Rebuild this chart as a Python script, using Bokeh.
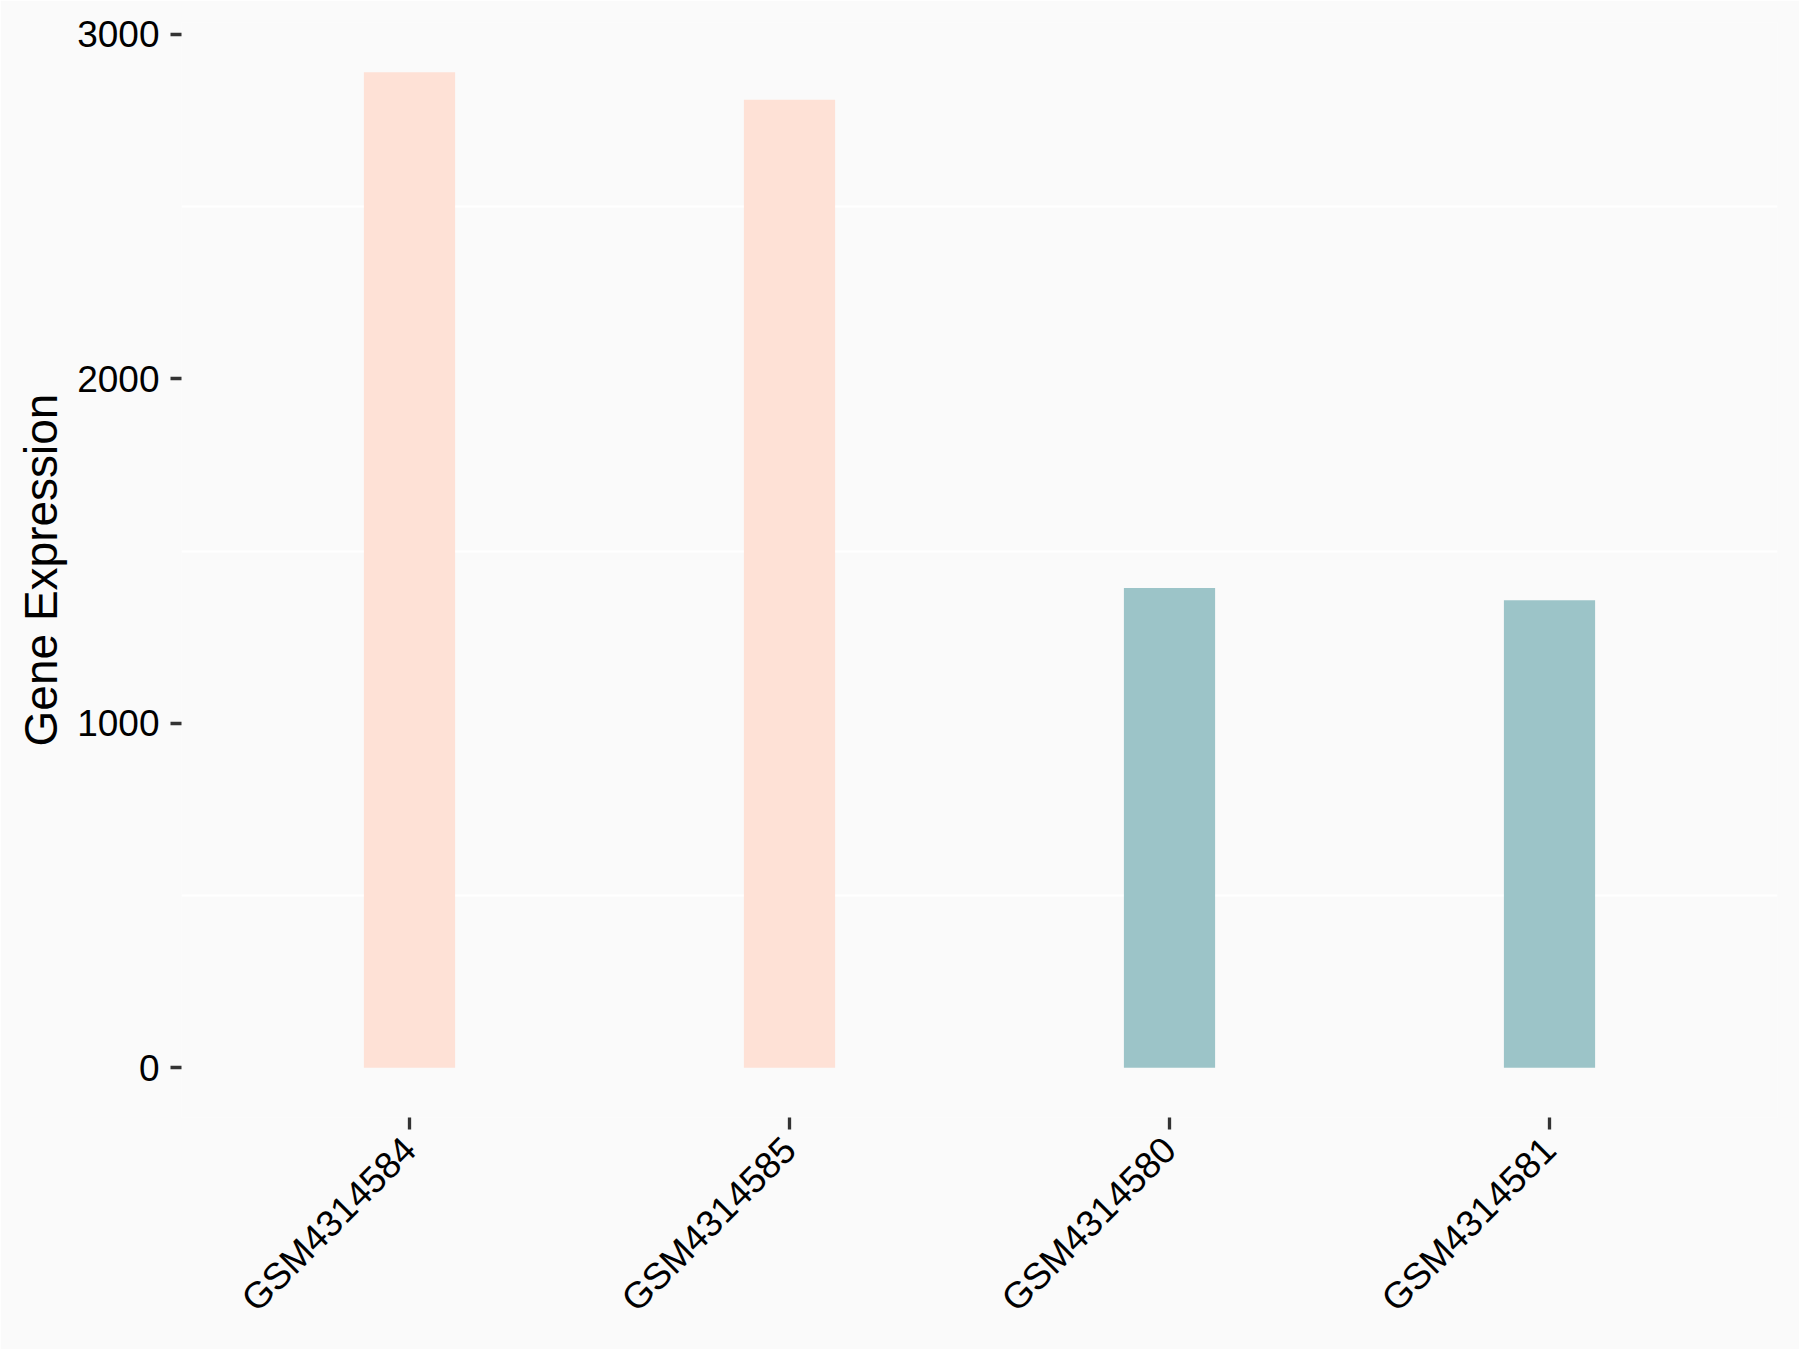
import math
from bokeh.plotting import figure
from bokeh.models import FactorRange, Range1d, FixedTicker, ColumnDataSource
from bokeh.embed import file_html
from bokeh.resources import INLINE

# ---- data ----
samples = ["GSM4314584", "GSM4314585", "GSM4314580", "GSM4314581"]
expression = [2890, 2810, 1393, 1357]
groups = ["group1", "group1", "group2", "group2"]
y_ticks = [0, 1000, 2000, 3000]
y_grid_lines = [500, 1500, 2500]

group_colors = {"group1": "#FEE1D6", "group2": "#9CC4C8"}

src = ColumnDataSource(dict(
    sample=samples,
    value=expression,
    color=[group_colors[g] for g in groups],
))

FONT = "Liberation Sans"
BG = "#FAFAFA"

p = figure(
    x_range=FactorRange(factors=samples, range_padding=0.1, range_padding_units="absolute"),
    y_range=Range1d(-144.5, 3034.5),
    frame_width=1596, frame_height=1095,
    min_border_left=181, min_border_right=22, min_border_top=22, min_border_bottom=232,
    output_backend="svg", toolbar_location=None,
    background_fill_color=BG, border_fill_color=BG,
)
p.outline_line_color = None

p.vbar(x="sample", top="value", bottom=0, width=0.24, color="color", line_color=None, source=src)

# grids
p.xgrid.grid_line_color = None
p.ygrid.ticker = FixedTicker(ticks=y_grid_lines)
p.ygrid.grid_line_color = "white"
p.ygrid.grid_line_width = 2

# y axis
p.yaxis.ticker = y_ticks
p.yaxis.axis_line_color = None
p.yaxis.major_tick_line_color = "#333333"
p.yaxis.major_tick_line_width = 3.3
p.yaxis.major_tick_out = 11
p.yaxis.major_tick_in = 0
p.yaxis.minor_tick_line_color = None
p.yaxis.major_label_text_font = FONT
p.yaxis.major_label_text_font_size = "37px"
p.yaxis.major_label_text_color = "black"
p.yaxis.major_label_standoff = 11
p.yaxis.axis_label = "Gene Expression"
p.yaxis.axis_label_text_font = FONT
p.yaxis.axis_label_text_font_size = "46px"
p.yaxis.axis_label_text_font_style = "normal"
p.yaxis.axis_label_text_color = "black"
p.yaxis.axis_label_standoff = 7

# x axis
p.xaxis.axis_line_color = None
p.xaxis.major_tick_line_color = "#333333"
p.xaxis.major_tick_line_width = 3.3
p.xaxis.major_tick_out = 12
p.xaxis.major_tick_in = 0
p.xaxis.minor_tick_line_color = None
p.xaxis.major_label_text_font = FONT
p.xaxis.major_label_text_font_size = "37px"
p.xaxis.major_label_text_color = "black"
p.xaxis.major_label_orientation = math.pi / 4
p.xaxis.major_label_standoff = 14

open("out.html", "w").write(file_html(p, INLINE))
